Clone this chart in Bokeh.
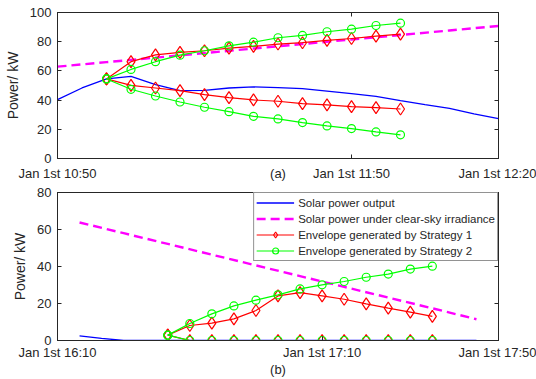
from bokeh.plotting import figure
from bokeh.layouts import column
from bokeh.models import FixedTicker, LinearAxis, Range1d, Legend, LegendItem
from bokeh.embed import file_html
from bokeh.resources import INLINE

# ---------------- data (minutes after the first x tick) ----------------
# (a) morning window, axis origin Jan 1st 10:50
a_solar_t = [0, 5, 10, 15, 20, 25, 30, 35, 40, 45, 50, 55, 60, 65, 70, 75, 80, 85, 90]
a_solar = [40.3, 48.3, 54.5, 56.3, 50.6, 46.5, 46.7, 48.3, 49.0, 48.6, 47.8, 46.2,
           44.4, 42.6, 39.6, 36.9, 34.4, 30.5, 27.3]
a_clear_t = [0, 10, 20, 30, 40, 50, 60, 70, 80, 90]
a_clear = [62.9, 66.0, 69.1, 72.2, 75.3, 78.4, 81.5, 84.6, 87.7, 90.8]
a_env_t = [10, 15, 20, 25, 30, 35, 40, 45, 50, 55, 60, 65, 70]
a_s1_upper = [54.5, 66.3, 71.0, 72.7, 73.8, 75.6, 76.8, 78.4, 79.3, 80.9, 82.2, 83.8, 85.2]
a_s1_lower = [54.5, 50.1, 48.3, 46.5, 43.7, 41.7, 40.1, 39.2, 37.6, 36.7, 35.5, 34.9, 33.9]
a_s2_upper = [54.5, 61.0, 66.3, 70.8, 73.8, 77.2, 79.7, 82.7, 84.3, 86.8, 88.6, 91.1, 92.7]
a_s2_lower = [54.5, 47.4, 42.8, 38.7, 35.1, 32.1, 28.9, 27.1, 24.6, 22.3, 20.5, 18.2, 16.2]
a_xticks = [0, 60, 90]
a_xlabels = ["Jan 1st 10:50", "Jan 1st 11:50", "Jan 1st 12:20"]
a_yticks = [0, 20, 40, 60, 80, 100]

# (b) evening window, axis origin Jan 1st 16:10
b_solar_t = [5, 10, 15, 20, 25, 30, 35, 40, 45, 50, 55, 60, 65, 70, 75, 80, 85, 90, 95]
b_solar = [2.5, 1.2, 0, 0, 0, 0, 0, 0, 0, 0, 0, 0, 0, 0, 0, 0, 0, 0, 0]
b_clear_t = [5, 15, 25, 35, 45, 55, 65, 75, 85, 95]
b_clear = [63.8, 58.0, 52.2, 46.4, 40.6, 34.8, 29.0, 23.2, 17.4, 11.5]
b_env_t = [25, 30, 35, 40, 45, 50, 55, 60, 65, 70, 75, 80, 85]
b_s1_upper = [2.9, 8.1, 9.4, 11.7, 16.2, 24.1, 25.9, 24.1, 22.3, 19.8, 17.5, 15.3, 13.0]
b_s1_lower = [2.9, 0, 0, 0, 0, 0, 0, 0, 0, 0, 0, 0, 0]
b_s2_upper = [2.9, 9.2, 14.4, 18.7, 21.8, 24.7, 27.9, 30.1, 31.9, 34.2, 35.9, 38.6, 40.2]
b_s2_lower = [2.9, 0, 0, 0, 0, 0, 0, 0, 0, 0, 0, 0, 0]
b_xticks = [0, 60, 100]
b_xlabels = ["Jan 1st 16:10", "Jan 1st 17:10", "Jan 1st 17:50"]
b_yticks = [0, 20, 40, 60, 80]

series_names = ["Solar power output",
                "Solar power under clear-sky irradiance",
                "Envelope generated by Strategy 1",
                "Envelope generated by Strategy 2"]

FONT = "Liberation Sans"
INK = "#262626"
BLUE, MAGENTA, RED, GREEN = "#0000FF", "#FF00FF", "#FF0000", "#00FF00"


def make_panel(height, border_top, border_bottom, xmax, ymax, xticks, xlabels, yticks,
               caption, caption_standoff, tick_standoff):
    p = figure(width=536, height=height, output_backend="svg", toolbar_location=None,
               x_range=Range1d(0, xmax), y_range=Range1d(0, ymax),
               min_border_left=57, min_border_right=38,
               min_border_top=border_top, min_border_bottom=border_bottom,
               x_axis_type=None, y_axis_type=None)
    p.outline_line_color = INK
    p.outline_line_width = 1
    p.background_fill_color = "white"
    p.border_fill_color = "white"
    p.xgrid.visible = False
    p.ygrid.visible = False

    xa = LinearAxis(ticker=FixedTicker(ticks=xticks), axis_label=caption,
                    major_label_overrides=dict(zip(xticks, xlabels)))
    ya = LinearAxis(ticker=FixedTicker(ticks=yticks), axis_label="Power/ kW")
    # box axes on top and right: tick marks only
    xt = LinearAxis(ticker=FixedTicker(ticks=xticks))
    yr = LinearAxis(ticker=FixedTicker(ticks=yticks))
    for ax in (xa, ya, xt, yr):
        ax.axis_line_color = INK
        ax.major_tick_line_color = INK
        ax.major_tick_in = 4
        ax.major_tick_out = 0
        ax.minor_tick_line_color = None
        ax.major_label_text_font = FONT
        ax.major_label_text_font_size = "13px"
        ax.major_label_text_color = INK
        ax.axis_label_text_font = FONT
        ax.axis_label_text_font_style = "normal"
        ax.axis_label_text_color = INK
    for ax in (xt, yr):
        ax.major_label_text_color = None
        ax.major_label_text_font_size = "1px"
        ax.major_label_standoff = 0
    xa.major_label_standoff = tick_standoff
    xa.axis_label_text_font_size = "13px"
    xa.axis_label_standoff = caption_standoff
    ya.major_label_standoff = 6
    ya.axis_label_text_font_size = "14px"
    ya.axis_label_standoff = 6
    p.add_layout(xa, "below")
    p.add_layout(ya, "left")
    p.add_layout(xt, "above")
    p.add_layout(yr, "right")
    return p


def draw(p, solar_t, solar, clear_t, clear, env_t, s1u, s1l, s2u, s2l):
    r_solar = p.line(solar_t, solar, color=BLUE, line_width=1.3)
    r_clear = p.line(clear_t, clear, color=MAGENTA, line_width=2.4, line_dash="9 5")
    rs = []
    for ys, col, mk, sz in ((s1u, RED, "diamond", 12), (s1l, RED, "diamond", 12),
                            (s2u, GREEN, "circle", 8), (s2l, GREEN, "circle", 8)):
        ln = p.line(env_t, ys, color=col, line_width=1.2)
        sc = p.scatter(env_t, ys, marker=mk, size=sz, line_color=col,
                       line_width=1.2, fill_alpha=0)
        rs.append((ln, sc))
    return r_solar, r_clear, rs


# ---------------- panel (a) ----------------
pa = make_panel(183, 12, 25, 90, 100, a_xticks, a_xlabels, a_yticks,
                "(a)", -18, 7)
draw(pa, a_solar_t, a_solar, a_clear_t, a_clear, a_env_t,
     a_s1_upper, a_s1_lower, a_s2_upper, a_s2_lower)

# ---------------- panel (b) ----------------
pb = make_panel(196, 9, 39, 100, 80, b_xticks, b_xlabels, b_yticks,
                "(b)", -1, 4)
solar_r, clear_r, env_r = draw(pb, b_solar_t, b_solar, b_clear_t, b_clear, b_env_t,
                               b_s1_upper, b_s1_lower, b_s2_upper, b_s2_lower)

legend = Legend(items=[
    LegendItem(label=series_names[0], renderers=[solar_r]),
    LegendItem(label=series_names[1], renderers=[clear_r]),
    LegendItem(label=series_names[2], renderers=list(env_r[0])),
    LegendItem(label=series_names[3], renderers=list(env_r[2])),
], location="top_right")
legend.margin = 0
legend.padding = 2
legend.spacing = 1
legend.glyph_width = 38
legend.glyph_height = 15
legend.label_height = 15
legend.label_standoff = 4
legend.label_text_font = FONT
legend.label_text_font_size = "11.5px"
legend.label_text_color = INK
legend.border_line_color = INK
legend.border_line_width = 1
legend.background_fill_alpha = 1
pb.add_layout(legend, "center")

layout = column(pa, pb, spacing=0)
open("out.html", "w").write(file_html(layout, INLINE))
